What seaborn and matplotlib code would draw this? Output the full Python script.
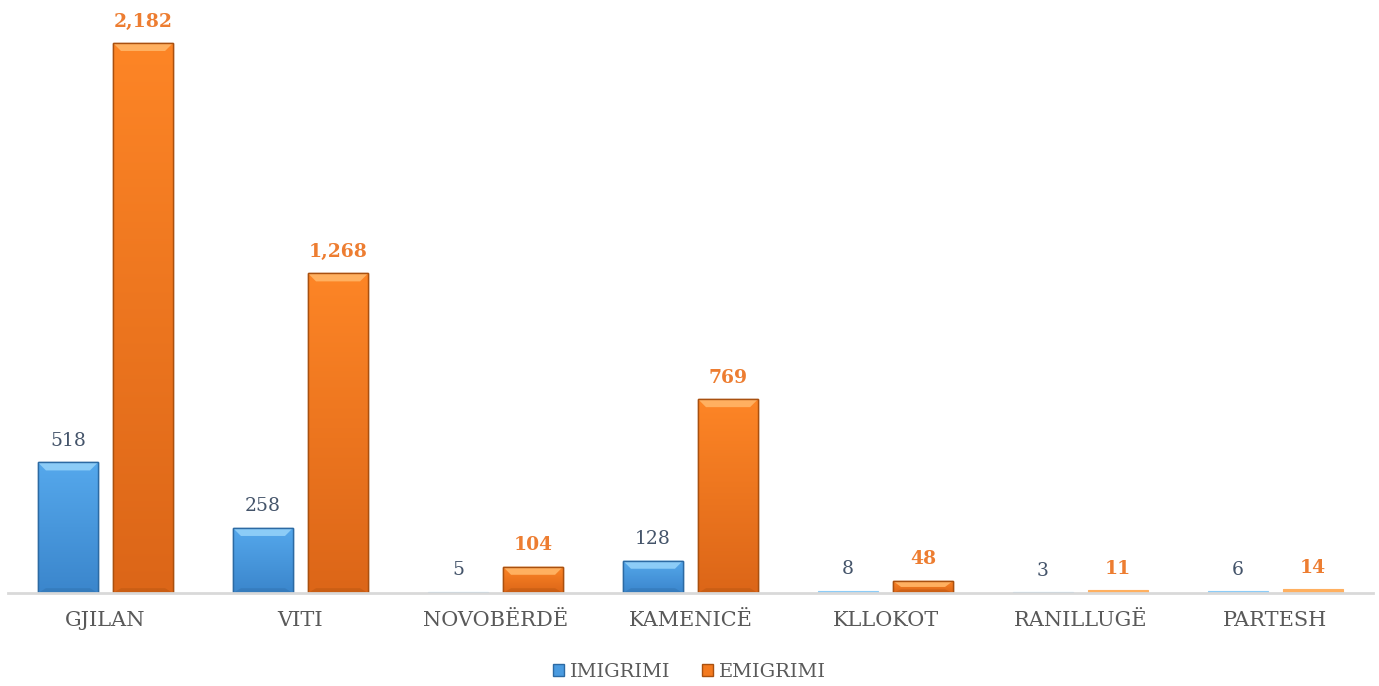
import matplotlib
matplotlib.use("Agg")
import matplotlib.pyplot as plt
from matplotlib.patches import Polygon, Patch
from matplotlib.colors import to_rgb
import seaborn as sns
import pandas as pd
import numpy as np

komunat = ["GJILAN", "VITI", "NOVOBËRDË", "KAMENICË", "KLLOKOT", "RANILLUGË", "PARTESH"]
imigrimi = [518, 258, 5, 128, 8, 3, 6]
emigrimi = [2182, 1268, 104, 769, 48, 11, 14]
seri = ["IMIGRIMI", "EMIGRIMI"]

ngjyra = {"IMIGRIMI": "#4a9be0", "EMIGRIMI": "#f47a1f"}
siper = {"IMIGRIMI": "#55a8ec", "EMIGRIMI": "#fd8526"}
poshte = {"IMIGRIMI": "#3b86cc", "EMIGRIMI": "#dc6618"}
skaj = {"IMIGRIMI": "#2c6aa3", "EMIGRIMI": "#a9500f"}
drita = {"IMIGRIMI": "#8cccf7", "EMIGRIMI": "#ffb060"}
etiketa = {"IMIGRIMI": "#44546a", "EMIGRIMI": "#ed7d31"}

df = pd.DataFrame({
    "komuna": komunat * 2,
    "vlera": imigrimi + emigrimi,
    "lloji": [seri[0]] * len(komunat) + [seri[1]] * len(komunat),
})

sns.set_theme(style="white")
plt.rcParams["font.family"] = ["DejaVu Serif"]

fig = plt.figure(figsize=(13.79, 6.86), dpi=100)
ax = fig.add_axes([8 / 1379, 93 / 686, 1365 / 1379, 583 / 686])

sns.barplot(data=df, x="komuna", y="vlera", hue="lloji", order=komunat,
            hue_order=seri, palette=ngjyra, width=0.77, gap=0.2,
            legend=False, ax=ax, saturation=1)

ylim = (0, 2182 * 583 / 550)
xlim = (-0.5, len(komunat) - 0.5)

# pixel-to-data scale for the bevel highlight
px_y = (ylim[1] - ylim[0]) / 583
px_x = len(komunat) / 1365

for cont, s in zip(ax.containers, seri):
    c_top = np.array(to_rgb(siper[s]))
    c_bot = np.array(to_rgb(poshte[s]))
    for bar in cont:
        x0 = bar.get_x()
        w = bar.get_width()
        h = bar.get_height()
        if h <= 0:
            continue
        if h < 4 * px_y:
            # very short bars show only as a faint sliver
            bar.set_facecolor(drita[s])
            bar.set_edgecolor(drita[s])
            bar.set_linewidth(0.8)
            continue
        bar.set_edgecolor(skaj[s])
        bar.set_linewidth(1.0)
        # vertical shading inside the bar
        t = np.linspace(0, 1, 64)[:, None]
        grad = (c_top * (1 - t) + c_bot * t)[:, None, :]
        grad = np.repeat(grad, 2, axis=1)
        im = ax.imshow(grad, extent=(x0, x0 + w, 0, h), aspect="auto",
                       origin="upper", zorder=bar.get_zorder() + 0.1, interpolation="bilinear")
        im.set_clip_path(bar)
        b = min(8 * px_y, h / 2)
        bx = min(8 * px_x, w / 4)
        top = Polygon([[x0, h], [x0 + w, h], [x0 + w - bx, h - b], [x0 + bx, h - b]],
                      closed=True, facecolor=drita[s], edgecolor="none", zorder=3)
        ax.add_patch(top)
        bot = Polygon([[x0, 0], [x0 + w, 0], [x0 + w - bx, b * 0.6], [x0 + bx, b * 0.6]],
                      closed=True, facecolor=skaj[s], alpha=0.35, edgecolor="none", zorder=3)
        ax.add_patch(bot)
        edge = Polygon([[x0, 0], [x0, h], [x0 + w, h], [x0 + w, 0]], closed=True,
                       facecolor="none", edgecolor=skaj[s], linewidth=1.0, zorder=3.1)
        ax.add_patch(edge)
    ax.bar_label(cont, labels=[f"{v:,.0f}" for v in cont.datavalues], padding=9,
                 fontsize=13.5, color=etiketa[s],
                 fontweight="bold" if s == "EMIGRIMI" else "normal")

ax.set_ylim(*ylim)
ax.set_xlim(*xlim)

for sp in ["top", "right", "left"]:
    ax.spines[sp].set_visible(False)
ax.spines["bottom"].set_color("#d9d9d9")
ax.spines["bottom"].set_linewidth(2)
ax.spines["bottom"].set_zorder(5)
ax.set_yticks([])
ax.set_xlabel("")
ax.set_ylabel("")
ax.tick_params(axis="x", length=0, pad=13, labelsize=15, labelcolor="#595959")

handles = [Patch(facecolor=ngjyra[s], edgecolor=skaj[s], label=s) for s in seri]
leg = fig.legend(handles=handles, loc="center", bbox_to_anchor=(0.5, 14 / 686), ncol=2,
                 frameon=False, fontsize=14, handlelength=0.6, handleheight=0.6,
                 handletextpad=0.3, columnspacing=1.6)
for t in leg.get_texts():
    t.set_color("#595959")

fig.savefig("out.png", dpi=100)
